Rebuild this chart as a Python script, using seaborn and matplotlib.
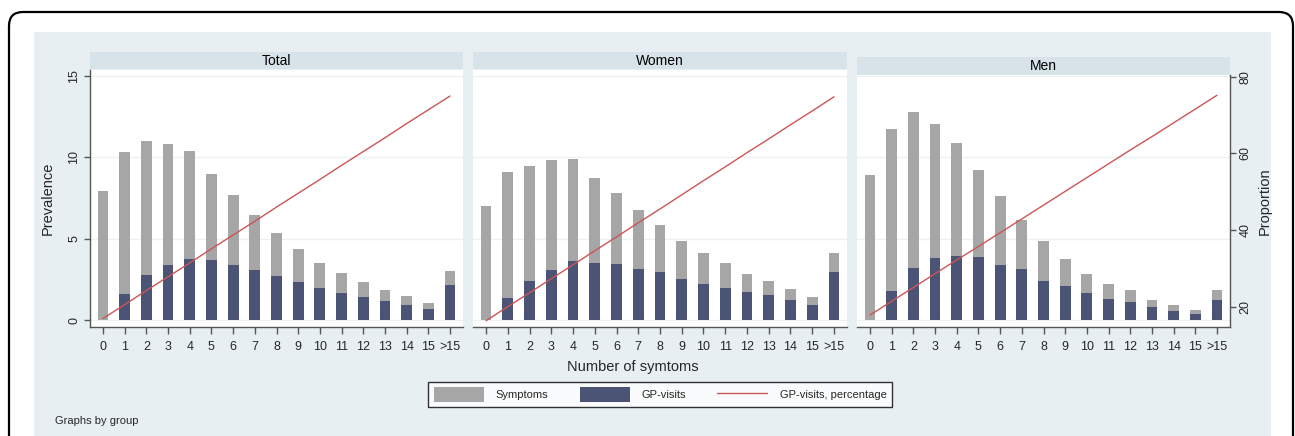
import numpy as np
import pandas as pd
import matplotlib
matplotlib.use("Agg")
import matplotlib.pyplot as plt
import seaborn as sns
from matplotlib.patches import Patch, Rectangle, FancyBboxPatch
from matplotlib.lines import Line2D

# number of symptoms (x categories)
categories = [str(i) for i in range(16)] + [">15"]

# prevalence of symptoms (grey bars), GP-visits (navy bars), GP-visit percentage (red line)
symptoms_total = [7.9, 10.33, 11.02, 10.84, 10.37, 8.95, 7.70, 6.47, 5.35, 4.34, 3.50, 2.89, 2.36, 1.84, 1.48, 1.04, 3.03]
gp_total = [0.0, 1.58, 2.75, 3.36, 3.75, 3.69, 3.38, 3.09, 2.73, 2.31, 1.95, 1.64, 1.39, 1.19, 0.94, 0.66, 2.15]
pct_total = [16.9, 20.5, 24.2, 27.8, 31.4, 35.1, 38.7, 42.3, 46.0, 49.6, 53.2, 56.9, 60.5, 64.1, 67.8, 71.4, 75.0]

symptoms_women = [7.03, 9.10, 9.44, 9.81, 9.92, 8.75, 7.79, 6.78, 5.82, 4.88, 4.10, 3.50, 2.85, 2.42, 1.93, 1.43, 4.14]
gp_women = [0.0, 1.37, 2.38, 3.05, 3.63, 3.48, 3.42, 3.11, 2.97, 2.54, 2.19, 1.99, 1.70, 1.54, 1.23, 0.90, 2.95]
pct_women = [16.3, 20.0, 23.6, 27.3, 30.9, 34.6, 38.2, 41.9, 45.5, 49.2, 52.9, 56.5, 60.2, 63.8, 67.5, 71.1, 74.8]

symptoms_men = [8.89, 11.74, 12.78, 12.03, 10.86, 9.20, 7.62, 6.13, 4.84, 3.75, 2.81, 2.23, 1.82, 1.23, 0.94, 0.60, 1.86]
gp_men = [0.0, 1.76, 3.20, 3.79, 3.93, 3.89, 3.36, 3.11, 2.40, 2.09, 1.68, 1.29, 1.09, 0.80, 0.57, 0.37, 1.25]
pct_men = [17.8, 21.4, 25.0, 28.6, 32.2, 35.7, 39.3, 42.9, 46.5, 50.1, 53.7, 57.3, 60.9, 64.4, 68.0, 71.6, 75.2]

groups = ["Total", "Women", "Men"]

GRAY = "#a6a6a6"
NAVY = "#4b5474"
RED = "#cc5555"
REGION = "#e8eff2"
STRIP = "#d8e3e9"
AXC = "#555555"

sns.set_theme(style="white")
plt.rcParams["font.family"] = ["Liberation Sans", "DejaVu Sans"]

W, H = 1295, 436
fig = plt.figure(figsize=(W / 100, H / 100), dpi=100)


def fx(x):
    return x / W


def fy(y):
    return 1 - y / H


# background: rounded frame and graph region, in pixel units
bg = fig.add_axes([0, 0, 1, 1], zorder=-10)
bg.set_xlim(0, W)
bg.set_ylim(H, 0)
bg.axis("off")
bg.add_patch(FancyBboxPatch((9, 12), 1284, 460, boxstyle="round,pad=0,rounding_size=14",
                            facecolor="white", edgecolor="black", linewidth=1.6))
bg.add_patch(Rectangle((34, 32), 1237, 420, facecolor=REGION, edgecolor="none"))

# panels: (left px, right px, top px, strip top, strip bottom), common bottom
panels = [(90, 463, 70, 52, 69), (473, 847, 70, 52, 69), (857, 1230, 75, 57, 75)]
bottom_px = 327
px_per_unit = 16.27
base_px = 320

data = {
    "Total": (symptoms_total, gp_total, pct_total),
    "Women": (symptoms_women, gp_women, pct_women),
    "Men": (symptoms_men, gp_men, pct_men),
}

for i, g in enumerate(groups):
    x0, x1, top, s0, s1 = panels[i]
    sym, gp, pct = data[g]
    df = pd.DataFrame({"n": categories, "sym": sym, "gp": gp})

    # strip
    bg.add_patch(Rectangle((x0, s0), x1 - x0, s1 - s0, facecolor=STRIP, edgecolor="none"))
    bg.text((x0 + x1) / 2, (s0 + s1) / 2 + 0.5, g, ha="center", va="center", fontsize=10, color="black")

    ax = fig.add_axes([fx(x0), fy(bottom_px), (x1 - x0) / W, (bottom_px - top) / H])
    ax.set_facecolor("white")
    sns.barplot(data=df, x="n", y="sym", order=categories, color=GRAY, saturation=1,
                width=0.5, linewidth=0, ax=ax)
    sns.barplot(data=df, x="n", y="gp", order=categories, color=NAVY, saturation=1,
                width=0.5, linewidth=0, ax=ax)

    lo = -(bottom_px - base_px) / px_per_unit
    hi = (base_px - top) / px_per_unit

    ax2 = ax.twinx()
    sns.lineplot(x=np.arange(len(categories)), y=pct, color=RED, linewidth=1, ax=ax2)

    ax.set_ylim(lo, hi)
    ax.set_xlim(-0.6, 16.6)
    ax.set_axisbelow(True)
    ax.set_yticks([0, 5, 10, 15])
    ax.yaxis.grid(True, color="#ecf1f3", linewidth=1)
    ax.set_xlabel("")
    ax.set_ylabel("")

    ax.set_xticks(range(len(categories)))
    ax.set_xticklabels(categories)
    ax.tick_params(axis="x", bottom=True, length=5, width=1, color=AXC, pad=5, labelsize=9, direction="out")

    for sp in ["top", "right", "left"]:
        ax.spines[sp].set_visible(False)
    ax.spines["bottom"].set_color(AXC)
    ax.spines["bottom"].set_linewidth(1)

    if i == 0:
        ax.spines["left"].set_visible(True)
        ax.spines["left"].set_color(AXC)
        ax.spines["left"].set_linewidth(1)
        ax.tick_params(axis="y", left=True, right=False, length=4, width=1, color=AXC, pad=3, labelsize=9)
        for t in ax.get_yticklabels():
            t.set_rotation(90)
            t.set_va("center")
        ax.set_ylabel("Prevalence", fontsize=10.5)
        ax.yaxis.set_label_coords((55 - x0) / (x1 - x0), 0.5)
    else:
        ax.tick_params(axis="y", left=False, right=False, labelleft=False)

    ax2.set_ylim(16.5 + 4.25 * lo, 16.5 + 4.25 * hi)
    ax2.set_xlim(-0.6, 16.6)
    for sp in ["top", "right", "left", "bottom"]:
        ax2.spines[sp].set_visible(False)
    if i == 2:
        ax2.spines["right"].set_visible(True)
        ax2.spines["right"].set_color(AXC)
        ax2.spines["right"].set_linewidth(1)
        ax2.set_yticks([20, 40, 60, 80])
        ax2.tick_params(axis="y", right=True, left=False, length=4, width=1, color=AXC, pad=3, labelsize=9)
        for t in ax2.get_yticklabels():
            t.set_rotation(90)
            t.set_va("center")
        ax2.set_ylabel("Proportion", fontsize=10.5)
        ax2.yaxis.set_label_coords((1258 - x0) / (x1 - x0), 0.5)
    else:
        ax2.set_yticks([])
        ax2.tick_params(axis="y", left=False, right=False)
        ax2.set_ylabel("")

fig.text(fx(633), fy(367), "Number of symtoms", ha="center", va="center", fontsize=10.5)
fig.text(fx(55), fy(421), "Graphs by group", ha="left", va="center", fontsize=8)

handles = [Patch(facecolor=GRAY, edgecolor="none"),
           Patch(facecolor=NAVY, edgecolor="none"),
           Line2D([0], [0], color=RED, linewidth=1)]
leg = fig.legend(handles, ["Symptoms", "GP-visits", "GP-visits, percentage"],
                 loc="center", bbox_to_anchor=(fx(660), fy(394.5)), ncol=3,
                 frameon=True, fancybox=False, fontsize=8, handlelength=4.5,
                 handleheight=1.6, columnspacing=2.8, handletextpad=1.1,
                 borderpad=0.5)
leg.get_frame().set_edgecolor("black")
leg.get_frame().set_linewidth(1)
leg.get_frame().set_facecolor("white")

fig.savefig("out.png", dpi=100)
